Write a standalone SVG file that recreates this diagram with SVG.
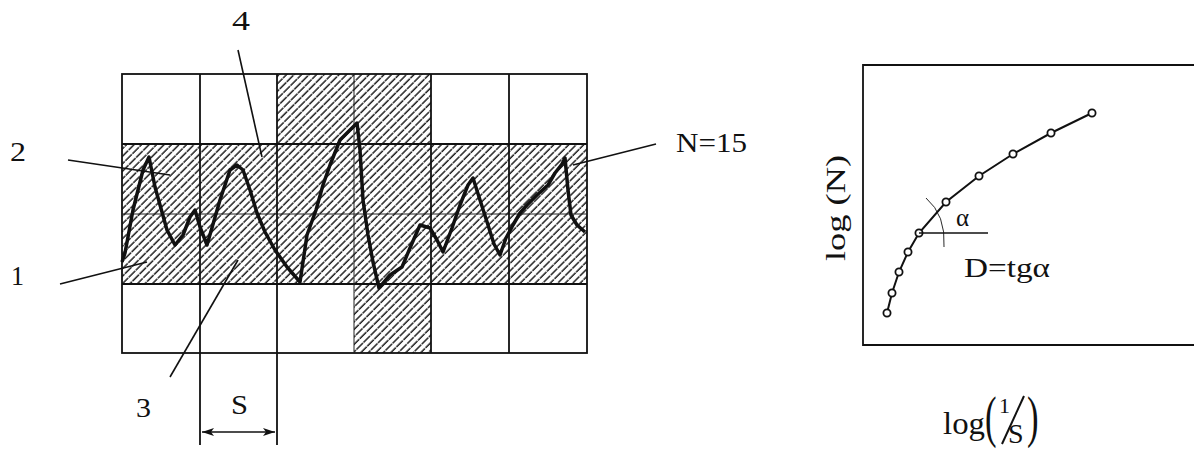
<svg xmlns="http://www.w3.org/2000/svg" width="1194" height="450" viewBox="0 0 1194 450">
<style>
.t{font-family:"Liberation Serif","Times New Roman",serif;fill:#111;}
.ln{stroke:#111;fill:none;}
.grid{stroke:#111;stroke-width:1.8;fill:none;}
.thin{stroke:#222;stroke-width:1;fill:none;}
</style>
<defs>
<pattern id="hatch" patternUnits="userSpaceOnUse" width="5.3" height="10" patternTransform="rotate(45)">
<line x1="1" y1="0" x2="1" y2="10" stroke="#000" stroke-width="1.3" stroke-dasharray="5 0.7"/>
</pattern>
<marker id="arr" viewBox="0 0 12 8" refX="12" refY="4" markerWidth="12" markerHeight="8" markerUnits="userSpaceOnUse" orient="auto-start-reverse">
<path d="M0,0 L12,4 L0,8 L3,4 Z" fill="#111"/>
</marker>
</defs>
<rect width="1194" height="450" fill="#fff"/>
<g id="grid">
<rect x="277" y="74" width="154" height="70" fill="url(#hatch)"/>
<rect x="122" y="144" width="465" height="140" fill="url(#hatch)"/>
<rect x="354" y="284" width="77" height="69" fill="url(#hatch)"/>
<rect x="122" y="74" width="465" height="279" class="grid"/>
<line x1="122" y1="144" x2="587" y2="144" class="grid"/>
<line x1="122" y1="214" x2="587" y2="214" class="thin"/>
<line x1="122" y1="284" x2="587" y2="284" class="grid"/>
<line x1="200" y1="74" x2="200" y2="445" class="grid"/>
<line x1="277" y1="74" x2="277" y2="445" class="grid"/>
<line x1="354" y1="74" x2="354" y2="353" class="thin"/>
<line x1="431" y1="74" x2="431" y2="353" class="grid"/>
<line x1="509" y1="74" x2="509" y2="353" class="grid"/>
</g>
<g id="profile">
<path class="ln" stroke-width="3.5" stroke-linejoin="round" d="M122,262 L125,253 L133,210 L143,170 L149,157 L155,187 L167,230 L175,245 L183,235 L190,217 L195,210 L200,227 L207,245 L220,200 L230,170 L237,165 L243,170 L250,190 L257,213 L265,232 L275,250 L287,267 L300,282 L307,235 L316,210 L323,185 L330,165 L340,140 L350,130 L357,123 L360,150 L363,200 L368,235 L373,262 L379,288 L390,275 L402,267 L410,248 L420,225 L430,228 L437,240 L443,252 L452,228 L460,205 L468,185 L473,178 L480,200 L488,225 L494,244 L500,255 L506,238 L513,225 L520,213 L527,205 L537,195 L548,185 L555,173 L562,164 L565,158 L568,190 L571,215 L577,225 L585,232"/>
</g>
<g id="leaders">
<line x1="68" y1="160" x2="170" y2="175" class="ln" stroke-width="1.6"/>
<line x1="60" y1="284" x2="147" y2="262" class="ln" stroke-width="1.6"/>
<line x1="170" y1="377" x2="238" y2="260" class="ln" stroke-width="1.6"/>
<line x1="238" y1="50" x2="262" y2="157" class="ln" stroke-width="1.6"/>
<line x1="656" y1="144" x2="573" y2="165" class="ln" stroke-width="1.6"/>
<line x1="202" y1="432" x2="275" y2="432" class="ln" stroke-width="1.6" marker-start="url(#arr)" marker-end="url(#arr)"/>
</g>
<g id="labels">
<text class="t" x="10" y="161" font-size="27" textLength="16" lengthAdjust="spacingAndGlyphs">2</text>
<text class="t" x="11" y="285" font-size="28" textLength="13" lengthAdjust="spacingAndGlyphs">1</text>
<text class="t" x="136" y="417" font-size="27" textLength="15" lengthAdjust="spacingAndGlyphs">3</text>
<text class="t" x="232" y="30" font-size="27" textLength="18" lengthAdjust="spacingAndGlyphs">4</text>
<text class="t" x="231" y="414" font-size="27" textLength="17" lengthAdjust="spacingAndGlyphs">S</text>
<text class="t" x="676" y="152" font-size="28" textLength="71" lengthAdjust="spacingAndGlyphs">N=15</text>
</g>
<g id="plot">
<path class="ln" stroke-width="1.8" d="M1194,65 L863,65 L863,345 L1194,345"/>
<polyline class="ln" stroke-width="2" points="887,313 892,293 899,272 908,252 919,233 946,202 979,176 1013,154 1051,133 1092,113"/>
<g fill="#fff" stroke="#111" stroke-width="1.8">
<circle cx="887" cy="313" r="3.6"/><circle cx="892" cy="293" r="3.6"/><circle cx="899" cy="272" r="3.6"/><circle cx="908" cy="252" r="3.6"/><circle cx="919" cy="233" r="3.6"/><circle cx="946" cy="202" r="3.6"/><circle cx="979" cy="176" r="3.6"/><circle cx="1013" cy="154" r="3.6"/><circle cx="1051" cy="133" r="3.6"/><circle cx="1092" cy="113" r="3.6"/>
</g>
<line x1="919" y1="233" x2="988" y2="233" class="ln" stroke-width="1.5"/>
<path class="ln" stroke-width="0.9" d="M926,198 Q946,215 944,247"/>
<text class="t" x="956" y="226" font-size="25">α</text>
<text class="t" x="964" y="277" font-size="28" textLength="86" lengthAdjust="spacingAndGlyphs">D=tgα</text>
<text class="t" x="845" y="208" font-size="28" text-anchor="middle" textLength="106" lengthAdjust="spacingAndGlyphs" transform="rotate(-90 845 208)">log (N)</text>
<text class="t" x="943" y="434" font-size="31" textLength="42" lengthAdjust="spacingAndGlyphs">log</text>
<text class="t" x="0" y="436" font-size="56" transform="translate(985 0) scale(0.62 1)">(</text>
<text class="t" x="999" y="413" font-size="22">1</text>
<line x1="1024" y1="396" x2="1002" y2="444" class="ln" stroke-width="2"/>
<text class="t" x="1008" y="443" font-size="28">S</text>
<text class="t" x="0" y="436" font-size="56" transform="translate(1027 0) scale(0.62 1)">)</text>
</g>
</svg>
